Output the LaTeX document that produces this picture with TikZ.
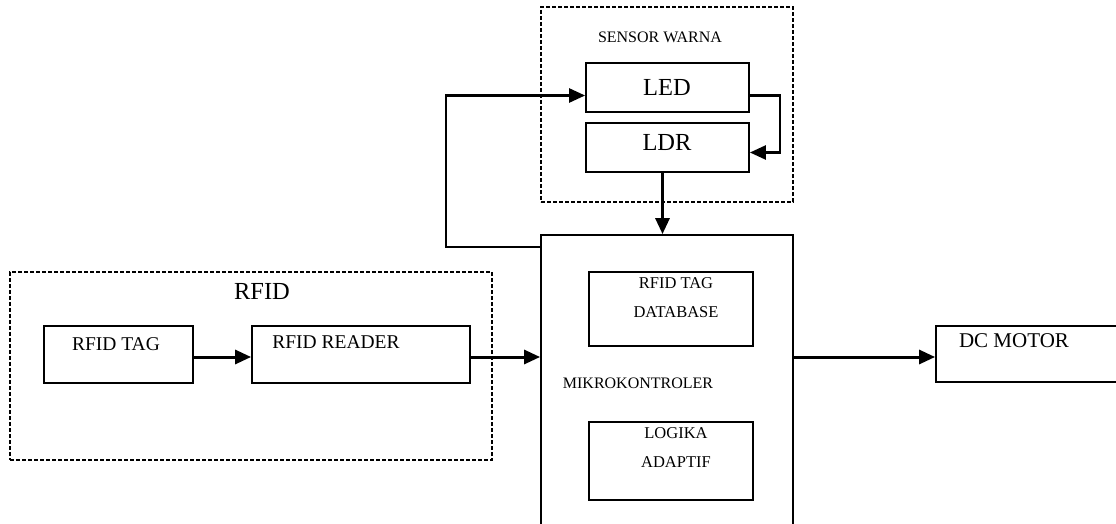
\documentclass[tikz,border=0pt]{standalone}
\usepackage{fontspec}
\setmainfont{Liberation Serif}
\usetikzlibrary{arrows.meta,calc}
\tikzset{
  box/.style={draw, line width=1.8pt, rectangle, inner sep=0pt},
  grp/.style={draw, line width=1.5pt, dash pattern=on 4pt off 2pt, rectangle, inner sep=0pt},
  arr/.style={line width=3pt, -{Triangle[length=16pt,width=14pt]}},
  lbl/.style={inner sep=0pt, font=\fontsize{#1}{#1}\selectfont},
  lbl/.default=16
}
\begin{document}
\begin{tikzpicture}[x=1pt,y=1pt]
\useasboundingbox (0,0) rectangle (1116,523);
\clip (0,0) rectangle (1116,523);
\fill[white] (0,0) rectangle (1116,523);
% groups
\node[grp, minimum width=252, minimum height=195] (sensor) at (667,418.5) {};
\node[grp, minimum width=482, minimum height=188] (rfid) at (251,157) {};
% boxes
\node[box, minimum width=163, minimum height=49] (led) at (667.5,435.5) {};
\node[box, minimum width=163, minimum height=49] (ldr) at (667.5,375.5) {};
\node[box, minimum width=252, minimum height=300] (mcu) at (667,138) {};
\node[box, minimum width=164, minimum height=74] (db) at (671,214) {};
\node[box, minimum width=164, minimum height=78] (logika) at (671,62) {};
\node[box, minimum width=190, minimum height=56] (dc) at (1031,169) {};
\node[box, minimum width=149, minimum height=57] (tag) at (118.5,168.5) {};
\node[box, minimum width=218, minimum height=57] (reader) at (361,168.5) {};
% labels
\node[lbl=16] (tsensor) at (660,486) {SENSOR WARNA};
\node[lbl=24.5] (tled) at (667,435) {LED};
\node[lbl=24.5] (tldr) at (667,380) {LDR};
\node[lbl=24.5] (trfid) at (262,231) {RFID};
\node[lbl=19.5] (ttag) at (116,179) {RFID TAG};
\node[lbl=19.5] (treader) at (336,181) {RFID READER};
\node[lbl=16.5] (tdb1) at (676,240) {RFID TAG};
\node[lbl=16.5] (tdb2) at (676,211) {DATABASE};
\node[lbl=16] (tmcu) at (638,140) {MIKROKONTROLER};
\node[lbl=16.5] (tlog1) at (676,90) {LOGIKA};
\node[lbl=16.5] (tlog2) at (676,61) {ADAPTIF};
\node[lbl=21] (tdc) at (1014,182) {DC MOTOR};
% connectors
\draw[arr] ([yshift=-2.5pt]tag.east) -- ([yshift=-2.5pt]reader.west);
\draw[arr] ([yshift=-2.5pt]reader.east) -- ([yshift=-2.5pt]reader.east -| mcu.west);
\draw[arr] ([yshift=-3pt]dc.west -| mcu.east) -- ([yshift=-3pt]dc.west);
\draw[arr] ([xshift=-5pt]ldr.south) -- ([xshift=-5pt]ldr.south |- mcu.north);
\draw[line width=2.5pt, -{Triangle[length=16pt,width=14pt]}] ([yshift=-8pt]led.east) -- ++(30,0) |- ([yshift=-5pt]ldr.east);
\coordinate (fb) at ([xshift=-94pt,yshift=-13pt]mcu.north west);
\coordinate (ledin) at ([yshift=-8pt]led.west);
\coordinate (fbtop) at (fb |- ledin);
\draw[line width=1.8pt] ([yshift=-13pt]mcu.north west) -- (fb) -- (fbtop);
\draw[line width=2.6pt, -{Triangle[length=16pt,width=14pt]}] ([xshift=-0.9pt]fbtop) -- (ledin);
\end{tikzpicture}
\end{document}
